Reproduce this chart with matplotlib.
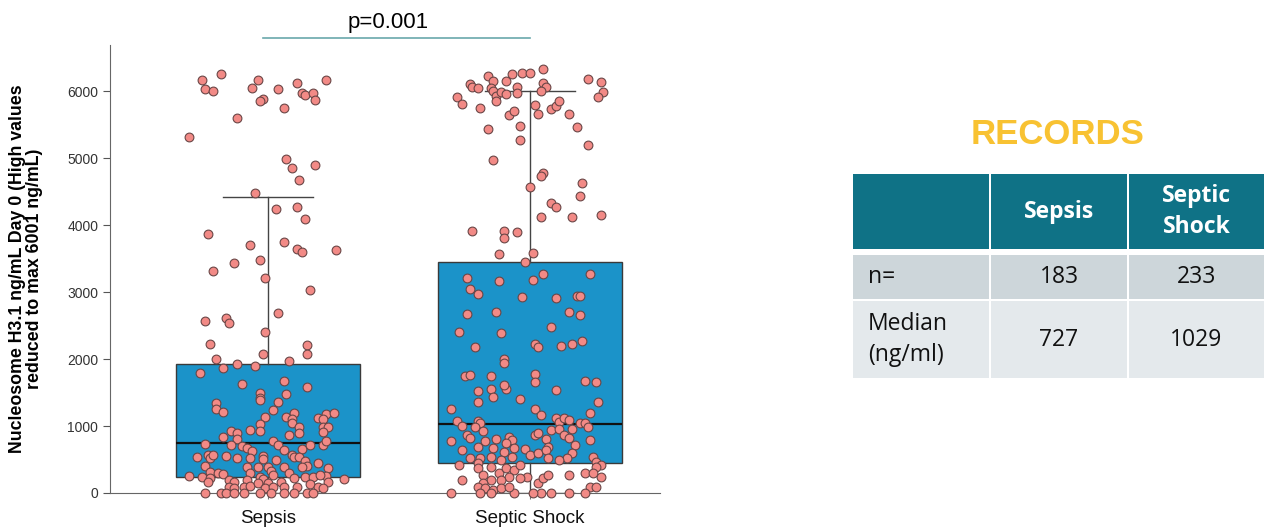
import numpy as np
import matplotlib.pyplot as plt
from matplotlib.patches import Rectangle

plt.rcParams['font.family'] = ['Liberation Sans', 'DejaVu Sans']

groups = ['Sepsis', 'Septic Shock']

# box statistics (ng/mL)
box_q1 = [240, 448]
box_med = [746, 1030]
box_q3 = [1925, 3448]
box_whislo = [0, 0]
box_whishi = [4418, 6000]

# individual observations (value, horizontal jitter in category units)
sepsis_y = [6160, 6250, 6030, 6000, 6160, 6040, 5880, 5850, 6030, 6120, 5970, 5940, 5970, 5865,
            6160, 5746, 5597, 5313, 4985, 4851, 4895, 4672, 4478, 4239, 4269,
            4090, 3866, 3701, 3746, 3642, 3597, 3627, 3433, 3478, 3313, 3209, 3030, 2687, 2567,
            2612, 2537, 2403, 2224, 2209,
            2079, 2070, 2005, 1866, 1925, 1900, 1965, 1791, 1632, 1677, 1587, 1497, 1423, 1393,
            1473, 1363, 1348, 1249, 1204, 1244, 1134, 1130, 1189, 1104, 1040, 1115, 1179, 1199,
            1110, 990, 990, 910, 980, 891, 866, 1030, 925, 940, 921, 891, 840, 806, 716, 701,
            727, 667, 627, 776, 712, 642, 657, 716, 712, 772, 542, 567, 518, 567, 552, 522, 522,
            557, 503, 393, 567, 542, 542, 482, 403, 443, 493, 403, 318, 294, 279, 384, 294, 393,
            328, 393, 294, 393, 369, 254, 254, 244, 219, 169, 194, 169, 194, 244, 204, 144, 269,
            169, 219, 244, 244, 269, 169, 204, 94, 70, 94, 104, 144, 70, 94, 94, 94, 134, 94, 70,
            5, 5, 5, 5, 5, 5, 5, 5, 5, 5, 5]
sepsis_jit = [-0.25, -0.18, -0.24, -0.21, -0.04, -0.06, -0.02, -0.03, 0.04, 0.11, 0.13, 0.14, 0.17, 0.18,
              0.22, 0.06, -0.12, -0.30, 0.07, 0.09, 0.18, 0.12, -0.05, 0.03, 0.11,
              0.14, -0.23, -0.07, 0.06, 0.11, 0.13, 0.26, -0.13, -0.03, -0.21, -0.01, 0.16, 0.04, -0.24,
              -0.16, -0.15, -0.01, -0.22, 0.15,
              0.15, -0.02, -0.20, -0.17, -0.12, -0.05, 0.08, -0.26, -0.10, 0.06, 0.15, -0.03, -0.03, -0.03,
              0.07, 0.04, -0.20, -0.20, -0.17, 0.02, -0.01, 0.07, 0.10, 0.09, 0.09, 0.19, 0.22, 0.25,
              0.21, 0.21, 0.23, 0.21, 0.12, 0.12, 0.08, -0.03, -0.03, -0.07, -0.14, -0.12, -0.17, -0.12, -0.14, -0.10,
              -0.24, -0.08, -0.06, 0.02, 0.04, 0.06, 0.13, 0.16, 0.21, 0.22, -0.27, -0.23, -0.22, -0.21, -0.16, -0.12, -0.07,
              -0.02, -0.02, 0.00, 0.09, 0.10, 0.12, 0.14, 0.15, 0.19, 0.03, -0.24, -0.22, -0.19, -0.17, -0.08, -0.07, -0.04,
              0.01, 0.06, 0.08, 0.13, 0.23, 0.22, -0.30, -0.25, -0.22, -0.23, -0.15, -0.13, -0.08, -0.03, -0.02, 0.00, 0.02,
              0.05, 0.10, 0.14, 0.17, 0.20, 0.23, 0.29, -0.15, -0.13, -0.09, -0.07, -0.04, -0.01, 0.02, 0.06, 0.11, 0.16, 0.19, 0.21,
              -0.24, -0.18, -0.16, -0.13, -0.09, -0.03, 0.01, 0.06, 0.10, 0.15, 0.17]

shock_y = [5906, 5811, 6104, 6065, 6045, 5751, 6219, 6154, 6040, 6005, 5925, 5855, 5980, 5950,
           6145, 6254, 6065, 5975, 6264, 6264, 6328, 6115, 6065, 6005, 5796, 5661, 5727, 5776,
           5846, 5637, 5701, 5652, 5467, 6174, 6134, 5980, 5915, 5428, 5482, 5264, 5194, 4970,
           4781, 4731, 4567, 4632, 4433, 4333, 4264,
           4115, 4115, 4145, 3906, 3906, 3801, 3900, 3572, 3587, 3452, 3204, 3164, 3174, 3264,
           3269, 3040, 2966, 2930, 2906, 2945, 2945, 2672, 2697, 2706, 2657, 2408, 2383, 2478,
           2184, 2224, 2174, 2194, 2219, 2269,
           2000, 1945, 1746, 1761, 1746, 1776, 1652, 1677, 1657, 1527, 1547, 1438, 1547, 1607,
           1532, 1403, 1358, 1259, 1249, 1159, 1199, 1353, 1075, 1000, 1075, 1050, 980, 925, 866,
           816, 781, 776, 801, 667, 840, 791, 742, 667, 616, 542, 642, 691, 518, 518, 542, 493,
           657, 567, 592, 866, 900, 801, 682, 642, 940, 1124, 1065, 1115, 1090, 950, 866, 950,
           816, 716, 592, 518, 493, 518, 1050, 1040, 990, 791, 542, 467, 418, 393, 418, 443, 369,
           269, 393, 294, 369, 343, 418, 244, 219, 244, 194, 194, 144, 94, 194, 70, 45, 70, 5,
           94, 144, 219, 269, 269, 294, 294, 244, 94, 94, 5, 5, 5, 5, 5, 5, 5, 5]
shock_jit = [-0.28, -0.26, -0.23, -0.22, -0.20, -0.19, -0.16, -0.14, -0.15, -0.14, -0.13, -0.13, -0.11, -0.09,
             -0.09, -0.07, -0.05, -0.05, -0.03, 0.00, 0.05, 0.05, 0.06, 0.04, 0.02, 0.03, 0.08, 0.10,
             0.11, -0.08, -0.06, 0.15, 0.18, 0.22, 0.27, 0.28, 0.26, -0.16, -0.04, -0.04, 0.22, -0.14,
             0.05, 0.04, 0.00, 0.20, 0.19, 0.08, 0.10,
             0.04, 0.16, 0.27, -0.22, -0.10, -0.10, -0.05, -0.12, 0.01, -0.02, -0.24, -0.12, 0.01, 0.05,
             0.23, -0.23, -0.20, -0.03, 0.10, 0.18, 0.19, -0.24, -0.13, 0.15, 0.19, -0.27, -0.11, 0.08,
             -0.21, 0.02, 0.03, 0.12, 0.16, 0.20,
             -0.10, -0.10, -0.25, -0.23, -0.15, 0.02, 0.02, 0.21, 0.25, -0.20, -0.15, -0.14, -0.09, -0.10,
             0.10, -0.04, -0.20, -0.30, 0.02, 0.04, 0.23, 0.26, -0.28, -0.26, -0.20, -0.19, -0.21, -0.18, -0.24,
             -0.23, -0.30, -0.17, -0.13, -0.14, -0.08, -0.07, -0.09, -0.06, -0.10, -0.07, -0.26, -0.20, -0.23, -0.19, -0.15, -0.11,
             -0.02, 0.00, 0.03, 0.02, 0.03, 0.06, 0.07, 0.06, 0.08, 0.10, 0.11, 0.13, 0.15, 0.11, 0.13, 0.16,
             0.15, 0.17, 0.16, 0.14, 0.11, 0.07, 0.19, 0.21, 0.22, 0.23, 0.24, 0.25, 0.27, 0.25, -0.27, -0.20, -0.20,
             -0.18, -0.15, -0.12, -0.09, -0.06, -0.04, -0.01, -0.04, -0.08, -0.11, -0.15, -0.18, -0.20, -0.26, -0.17, -0.14, -0.11, -0.06,
             -0.08, 0.03, 0.05, 0.07, 0.15, 0.21, 0.24, 0.27, 0.23, 0.25, 0.21, 0.15, 0.08, 0.04, 0.01, -0.15, -0.19, -0.30]

# summary table on the right
tbl_cols = ['', 'Sepsis', 'Septic\nShock']
tbl_rows = [['n=', '183', '233'],
            ['Median\n(ng/ml)', '727', '1029']]

fig = plt.figure(figsize=(12.64, 5.32), dpi=100)
ax = fig.add_axes([110 / 1264, 1 - 493 / 532, 550 / 1264, 448 / 532])

stats = []
for i, g in enumerate(groups):
    stats.append(dict(label=g, q1=box_q1[i], med=box_med[i], q3=box_q3[i],
                      whislo=box_whislo[i], whishi=box_whishi[i], fliers=[]))
ax.bxp(stats, positions=[0, 1], widths=0.70, patch_artist=True, showfliers=False,
       boxprops=dict(facecolor='#1b93c9', edgecolor='#3a3a3a', linewidth=1),
       medianprops=dict(color='#111111', linewidth=1.6),
       whiskerprops=dict(color='#444444', linewidth=1),
       capprops=dict(color='#444444', linewidth=1), capwidths=0.34, zorder=2)

for i, (ys, js) in enumerate([(sepsis_y, sepsis_jit), (shock_y, shock_jit)]):
    ax.scatter(i + np.array(js), ys, s=40, facecolor='#f28a86', edgecolor='#6a4646',
               linewidth=0.8, zorder=3, clip_on=False)

ax.set_xlim(-0.603, 1.496)
ax.set_ylim(0, 6687)
ax.set_yticks(range(0, 7000, 1000))
ax.set_xticks([0, 1])
ax.set_xticklabels(groups, fontsize=13.5)
ax.tick_params(axis='y', labelsize=10, colors='#555555', labelcolor='#333333', length=5)
ax.tick_params(axis='x', length=4, colors='#777777', labelcolor='#111111', pad=8)
for s in ['top', 'right']:
    ax.spines[s].set_visible(False)
for s in ['left', 'bottom']:
    ax.spines[s].set_color('#666666')
ax.set_ylabel('Nucleosome H3.1 ng/mL Day 0 (High values\nreduced to max 6001 ng/mL)',
              fontsize=12.8, fontweight='bold', linespacing=1.0)
ax.yaxis.set_label_coords(-0.122, 0.5)

# significance bar
ax.plot([-0.02, 1.0], [6790, 6790], color='#6aa8ab', linewidth=1.2, clip_on=False)
ax.text(0.458, 6860, 'p=0.001', ha='center', va='bottom', fontsize=16)

# table drawn in pixel coordinates
tx = fig.add_axes([0, 0, 1, 1], zorder=-1)
tx.set_xlim(0, 1264)
tx.set_ylim(532, 0)
tx.axis('off')
col_edges = [(853, 989), (991, 1127), (1129, 1264)]
row_edges = [(174, 249), (255, 299), (301, 378)]
row_colors = ['#0f7286', '#cdd6da', '#e4e9ec']
tx.text(1058, 135, 'RECORDS', ha='center', va='center', fontsize=25,
        fontweight='bold', color='#f8c232')
for r, (y0, y1) in enumerate(row_edges):
    for c, (x0, x1) in enumerate(col_edges):
        tx.add_patch(Rectangle((x0, y0), x1 - x0, y1 - y0, color=row_colors[r], lw=0))
        if r == 0:
            txt, col, fw = tbl_cols[c], 'white', 'bold'
        else:
            txt, col, fw = tbl_rows[r - 1][c], '#111111', 'normal'
        if c == 0:
            tx.text(x0 + 15, (y0 + y1) / 2, txt, ha='left', va='center', fontsize=16.5,
                    color=col, fontweight=fw, family='Open Sans', linespacing=1.35)
        else:
            tx.text((x0 + x1) / 2, (y0 + y1) / 2, txt, ha='center', va='center', fontsize=16.5,
                    color=col, fontweight=fw, family='Open Sans', linespacing=1.35)

fig.savefig('out.png', dpi=100)
